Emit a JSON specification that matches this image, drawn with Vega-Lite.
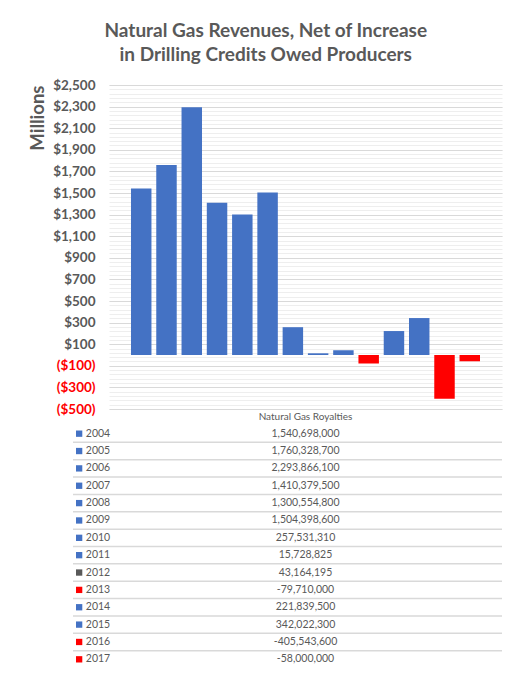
{
  "$schema": "https://vega.github.io/schema/vega-lite/v6.json",
  "padding": {"left": 28, "top": 22, "right": 14, "bottom": 6},
  "background": "white",
  "config": {
    "font": "Lato",
    "view": {"stroke": null},
    "locale": {"number": {"decimal": ".", "thousands": ",", "grouping": [3], "currency": ["$", ""], "minus": "-"}}
  },
  "title": {
    "text": ["Natural Gas Revenues, Net of Increase", "in Drilling Credits Owed Producers"],
    "anchor": "middle",
    "font": "Lato",
    "fontSize": 19,
    "fontWeight": "bold",
    "color": "#595959",
    "lineHeight": 24,
    "offset": 13
  },
  "data": {
    "values": [
      {"year": 2004, "value": 1540698000},
      {"year": 2005, "value": 1760328700},
      {"year": 2006, "value": 2293866100},
      {"year": 2007, "value": 1410379500},
      {"year": 2008, "value": 1300554800},
      {"year": 2009, "value": 1504398600},
      {"year": 2010, "value": 257531310},
      {"year": 2011, "value": 15728825},
      {"year": 2012, "value": 43164195},
      {"year": 2013, "value": -79710000},
      {"year": 2014, "value": 221839500},
      {"year": 2015, "value": 342022300},
      {"year": 2016, "value": -405543600},
      {"year": 2017, "value": -58000000}
    ]
  },
  "spacing": 16,
  "bounds": "flush",
  "resolve": {"scale": {"x": "independent", "y": "independent", "color": "independent"}},
  "vconcat": [
    {
      "width": 393,
      "height": 324,
      "encoding": {
        "x": {"field": "year", "type": "ordinal", "axis": null, "scale": {"paddingInner": 0.19, "paddingOuter": 0.87}}
      },
      "layer": [
        {
          "mark": {"type": "bar"},
          "encoding": {
            "y": {
              "field": "value",
              "type": "quantitative",
              "scale": {"domain": [-500e6, 2500e6], "nice": false},
              "axis": {
                "orient": "right", "labels": false, "ticks": false, "domain": false, "title": null,
                "grid": true, "gridColor": "#EEEEEE", "gridWidth": 1,
                "values": [-500e6, -460e6, -420e6, -380e6, -340e6, -300e6, -260e6, -220e6, -180e6, -140e6, -100e6, -60e6, -20e6, 20e6, 60e6, 100e6, 140e6, 180e6, 220e6, 260e6, 300e6, 340e6, 380e6, 420e6, 460e6, 500e6, 540e6, 580e6, 620e6, 660e6, 700e6, 740e6, 780e6, 820e6, 860e6, 900e6, 940e6, 980e6, 1020e6, 1060e6, 1100e6, 1140e6, 1180e6, 1220e6, 1260e6, 1300e6, 1340e6, 1380e6, 1420e6, 1460e6, 1500e6, 1540e6, 1580e6, 1620e6, 1660e6, 1700e6, 1740e6, 1780e6, 1820e6, 1860e6, 1900e6, 1940e6, 1980e6, 2020e6, 2060e6, 2100e6, 2140e6, 2180e6, 2220e6, 2260e6, 2300e6, 2340e6, 2380e6, 2420e6, 2460e6, 2500e6]
              }
            },
            "color": {"condition": {"test": "datum.value < 0", "value": "#FF0000"}, "value": "#4472C4"}
          }
        },
        {
          "mark": {"type": "point", "opacity": 0},
          "encoding": {
            "y": {
              "field": "value",
              "type": "quantitative",
              "axis": {
                "orient": "left",
                "grid": true, "gridColor": "#D9D9D9", "gridWidth": 1,
                "ticks": false, "domain": false,
                "values": [-500e6, -300e6, -100e6, 100e6, 300e6, 500e6, 700e6, 900e6, 1100e6, 1300e6, 1500e6, 1700e6, 1900e6, 2100e6, 2300e6, 2500e6],
                "labelExpr": "datum.value < 0 ? '($' + format(-datum.value / 1e6, ',') + ')' : '$' + format(datum.value / 1e6, ',')",
                "labelFont": "Lato", "labelFontSize": 13.5, "labelFontWeight": "bold",
                "labelColor": {"condition": {"test": "datum.value < 0", "value": "#FF0000"}, "value": "#595959"},
                "labelPadding": 14,
                "title": "Millions",
                "titleFont": "Lato", "titleFontSize": 18.5, "titleFontWeight": "bold", "titleColor": "#595959",
                "titleAnchor": "end", "titlePadding": 5
              }
            }
          }
        }
      ],
      "resolve": {"axis": {"y": "independent"}}
    },
    {
      "width": 393,
      "height": 243,
      "title": {"text": "Natural Gas Royalties", "anchor": "middle", "font": "Lato", "fontSize": 10, "fontWeight": "normal", "color": "#595959", "offset": 3},
      "layer": [
        {
          "transform": [{"filter": "datum.year > 2004"}],
          "mark": {"type": "rule", "color": "#D9D9D9", "strokeWidth": 1.5},
          "encoding": {
            "x": {"datum": -0.0916, "type": "quantitative", "scale": {"domain": [0, 1], "nice": false, "zero": false}, "axis": null},
            "x2": {"datum": 1},
            "y": {"field": "year", "type": "ordinal", "bandPosition": 0, "axis": null, "scale": {"paddingInner": 0, "paddingOuter": 0}}
          }
        },
        {
          "mark": {"type": "point", "shape": "square", "filled": true, "size": 40, "opacity": 1},
          "encoding": {
            "x": {"datum": -0.076, "type": "quantitative"},
            "y": {"field": "year", "type": "ordinal", "axis": null},
            "color": {"condition": [{"test": "datum.year == 2012", "value": "#595959"}, {"test": "datum.value < 0", "value": "#FF0000"}], "value": "#4472C4"}
          }
        },
        {
          "mark": {"type": "text", "align": "left", "baseline": "middle", "font": "Lato", "fontSize": 10.5, "color": "#595959"},
          "encoding": {
            "x": {"datum": -0.059, "type": "quantitative"},
            "y": {"field": "year", "type": "ordinal", "axis": null},
            "text": {"field": "year", "type": "nominal"}
          }
        },
        {
          "mark": {"type": "text", "align": "center", "baseline": "middle", "font": "Lato", "fontSize": 10.5, "color": "#595959"},
          "encoding": {
            "x": {"datum": 0.5, "type": "quantitative"},
            "y": {"field": "year", "type": "ordinal", "axis": null},
            "text": {"field": "value", "type": "quantitative", "format": ","}
          }
        }
      ]
    }
  ]
}
